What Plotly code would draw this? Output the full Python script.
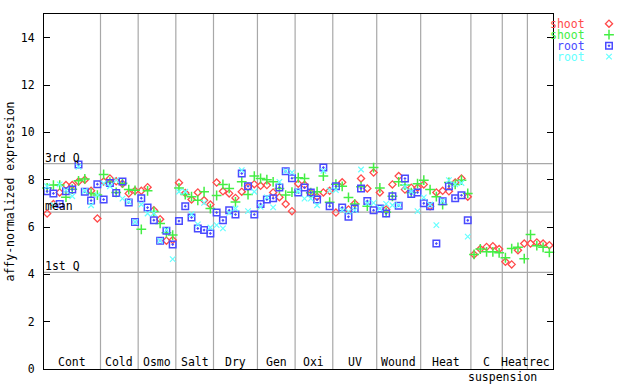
import plotly.graph_objects as go

# ---------------- data ----------------
group_names = ["Cont", "Cold", "Osmo", "Salt", "Dry", "Gen", "Oxi", "UV",
               "Wound", "Heat", "C", "Heat", "rec"]
group_sub = ["", "", "", "", "", "", "", "", "", "", "suspension", "", ""]
group_sizes = [9, 6, 6, 6, 7, 6, 6, 7, 7, 8, 5, 4, 4]

shoot_red = [6.57, 6.97, 7.46, 7.77, 7.77, 7.92, 8.00, 7.53, 6.36,
             7.92, 8.05, 7.93, 7.83, 7.42, 7.53,
             7.53, 7.68, 6.71, 6.33, 5.42, 5.45,
             7.87, 7.44, 7.16, 7.46, 7.13, 6.95,
             7.88, 7.51, 7.42, 7.23, 7.49, 7.70, 7.81,
             7.74, 7.77, 7.46, 7.26, 6.97, 6.67,
             7.83, 7.78, 7.44, 7.28, 7.46, 7.53,
             6.61, 7.89, 6.74, 6.99, 8.05, 7.63, 8.30,
             7.46, 6.74, 7.80, 8.15, 7.58, 7.66, 7.66,
             7.80, 6.88, 7.46, 7.53, 7.51, 7.88, 8.05, 7.28,
             4.84, 5.07, 5.16, 5.19, 5.07,
             4.53, 4.42, 5.02, 5.30,
             5.30, 5.35, 5.30, 5.23]
shoot_green = [7.65, 7.77, 7.77, 7.26, 7.60, 7.95, 8.03, 7.42, 7.35,
               8.22, 7.90, 7.46, 7.85, 7.58, 7.55,
               5.90, 7.53, 6.65, 6.15, 5.76, 5.66,
               7.65, 7.37, 7.28, 7.13, 7.49, 6.78,
               7.33, 7.80, 7.63, 7.06, 7.91, 7.37, 8.15,
               8.05, 8.00, 7.91, 7.63, 7.35, 7.47,
               8.08, 8.05, 7.45, 7.49, 8.15, 7.05,
               7.81, 7.72, 7.25, 6.97, 7.70, 6.88, 8.51,
               7.65, 6.62, 7.30, 7.91, 7.77, 7.45, 7.83,
               7.98, 7.58, 7.28, 6.95, 7.88, 7.80, 7.98, 7.42,
               4.84, 5.07, 4.95, 4.95, 4.91,
               4.70, 5.09, 5.14, 4.66,
               5.68, 5.21, 5.14, 4.93]
root_blue = [7.51, 7.42, 6.97, 7.51, 7.58, 8.64, 7.49, 7.12, 7.81,
             7.16, 7.86, 7.44, 7.92, 7.04, 6.21,
             7.22, 6.82, 6.29, 5.42, 5.84, 5.26,
             6.25, 6.88, 6.40, 5.94, 5.87, 5.73,
             6.61, 6.28, 6.71, 6.53, 8.26, 7.72, 6.53,
             6.97, 7.16, 7.22, 7.67, 8.36, 8.06,
             7.46, 7.67, 7.46, 7.16, 8.51, 6.88,
             7.72, 6.82, 6.43, 6.78, 7.63, 7.10, 6.71,
             6.78, 6.57, 7.30, 6.90, 8.05, 7.39, 7.46,
             7.00, 6.88, 5.30, 7.09, 7.72, 7.22, 7.34, 6.28,
             None, None, None, None, None,
             None, None, None, None,
             None, None, None, None]
root_cyan = [7.72, 6.93, 7.80, 7.55, 7.30, 8.54, 7.52, 6.92, 7.35,
             7.84, 7.72, 7.98, 7.20, 7.06, 6.21,
             6.95, 6.57, 6.58, 5.42, 5.87, 4.64,
             7.49, 7.49, 6.54, 6.11, 7.02, 5.98,
             6.08, 5.94, 6.60, 6.78, 8.40, 6.67, 7.49,
             6.85, 7.25, 6.83, 7.91, 8.36, 8.31,
             7.50, 7.20, 7.20, 6.92, 8.37, 7.55,
             7.56, 6.71, 6.65, 6.71, 8.43, 7.00, 7.02,
             6.78, 6.98, 6.92, 6.92, 7.70, 7.50, 6.67,
             7.25, 6.95, 6.08, 7.09, 7.98, 7.80, 7.86, 5.59,
             None, None, None, None, None,
             None, None, None, None,
             None, None, None, None]

stat_names = ["3rd Q", "mean", "1st Q"]
stat_values = [8.68, 6.63, 4.08]

series_names = ["shoot", "shoot", "root", "root"]
series_data = [shoot_red, shoot_green, root_blue, root_cyan]
series_colors = ["#ff4a4a", "#44ee44", "#4a4aff", "#66ffff"]
series_symbols = ["diamond-open", "cross-thin-open", "square-open-dot", "x-thin-open"]
series_sizes = [5.5, 7, 6.5, 5.5]
series_widths = [1.3, 1.5, 1.5, 1.2]

# ---------------- figure ----------------
FONT = "DejaVu Sans Mono"
FS = 11.5
W, H = 640, 384
ML, MT, MB = 44, 14, 15
PLOT_W = 508.5
AREA_W = W - ML
AREA_H = H - MT - MB
xdom_end = PLOT_W / AREA_W

n = len(shoot_red)
xs = list(range(n))

fig = go.Figure()
for name, data, col, sym, sz, lw in zip(series_names, series_data, series_colors,
                                        series_symbols, series_sizes, series_widths):
    fig.add_trace(go.Scatter(
        x=xs, y=data, mode="markers", name=name, showlegend=False,
        marker=dict(symbol=sym, size=sz, color=col, line=dict(color=col, width=lw)),
        xaxis="x", yaxis="y", cliponaxis=False))

# legend markers on a helper axis
for k, (col, sym, sz, lw) in enumerate(zip(series_colors, series_symbols,
                                           series_sizes, series_widths)):
    fig.add_trace(go.Scatter(
        x=[0.5], y=[k], mode="markers", showlegend=False, hoverinfo="skip",
        marker=dict(symbol=sym, size=sz, color=col, line=dict(color=col, width=lw)),
        xaxis="x2", yaxis="y2"))

shapes = []
b = -0.5
for s in group_sizes[:-1]:
    b += s
    shapes.append(dict(type="line", xref="x", yref="paper", x0=b, x1=b, y0=0, y1=1,
                       line=dict(color="#a8a8a8", width=1.2), layer="below"))
for v in stat_values:
    shapes.append(dict(type="line", xref="paper", yref="y", x0=0, x1=xdom_end, y0=v, y1=v,
                       line=dict(color="#a8a8a8", width=1.2), layer="below"))

annotations = []
for nm, v in zip(stat_names, stat_values):
    annotations.append(dict(text=nm, xref="paper", yref="y", x=0, y=v, xanchor="left",
                            yanchor="bottom", showarrow=False, borderpad=0, yshift=-2,
                            font=dict(family=FONT, size=FS, color="black")))
start = 0
for nm, sub, s in zip(group_names, group_sub, group_sizes):
    c = start + (s - 1) / 2
    annotations.append(dict(text=nm, xref="x", yref="paper", x=c, y=0, xanchor="center",
                            yanchor="bottom", showarrow=False, borderpad=0, yshift=-1,
                            font=dict(family=FONT, size=FS, color="black")))
    if sub:
        annotations.append(dict(text=sub, xref="x", yref="paper", x=start + s - 0.5, y=0,
                                xanchor="center", yanchor="top", showarrow=False,
                                borderpad=0, yshift=0,
                                font=dict(family=FONT, size=FS, color="black")))
    start += s

for k, (nm, col) in enumerate(zip(series_names, series_colors)):
    annotations.append(dict(text=nm, xref="paper", yref="y2", x=(586 - ML) / AREA_W, y=k,
                            xanchor="right", yanchor="middle", showarrow=False, borderpad=0,
                            font=dict(family=FONT, size=FS, color=col)))

# y-axis title
annotations.append(dict(text="affy-normalized expression", xref="paper", yref="paper",
                        x=(9 - ML) / AREA_W, y=0.5, xanchor="center", yanchor="middle",
                        textangle=-90, showarrow=False, borderpad=0,
                        font=dict(family=FONT, size=FS, color="black")))

fig.update_layout(
    width=W, height=H,
    margin=dict(l=ML, r=0, t=MT, b=MB, pad=0, autoexpand=False),
    paper_bgcolor="white", plot_bgcolor="white",
    showlegend=False,
    xaxis=dict(domain=[0, xdom_end], range=[-0.5, n - 0.5], showgrid=False, zeroline=False,
               showticklabels=False, ticks="", showline=True, linecolor="black",
               linewidth=1, mirror=True, fixedrange=True, automargin=False),
    yaxis=dict(range=[0, 15], dtick=2, tick0=0, showgrid=False, zeroline=False,
               ticks="inside", ticklen=6, tickcolor="black", tickwidth=1,
               showline=True, linecolor="black", linewidth=1, mirror="ticks",
               tickfont=dict(family=FONT, size=FS, color="black"),
               ticklabelstandoff=6, automargin=False, fixedrange=True),
    xaxis2=dict(domain=[(600 - ML) / AREA_W, (618 - ML) / AREA_W], range=[0, 1],
                visible=False, anchor="y2", fixedrange=True, automargin=False),
    yaxis2=dict(domain=[0, 1], range=[(H - MB - 23.7) / 11, (MT - 23.7) / 11],
                visible=False, anchor="x2", fixedrange=True, automargin=False),
    shapes=shapes, annotations=annotations,
)

fig.write_html("out.html", config={"displayModeBar": False},
               post_script="document.body.style.margin='0px';document.body.style.overflow='hidden';")
